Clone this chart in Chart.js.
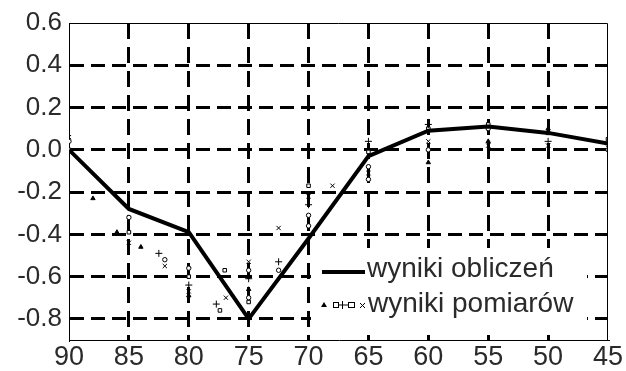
<!DOCTYPE html>
<html>
<head>
<meta charset="utf-8">
<script src="https://cdn.jsdelivr.net/npm/chart.js@4/dist/chart.umd.min.js"></script>
<style>
html,body{margin:0;padding:0;background:#fff;}
canvas{display:block;}
</style>
</head>
<body>
<canvas id="c" width="626" height="371"></canvas>
<script>
// ---- data ----
const xTicks = [90, 85, 80, 75, 70, 65, 60, 55, 50, 45];
const yTicks = [0.6, 0.4, 0.2, 0.0, -0.2, -0.4, -0.6, -0.8];

const calcLabel = "wyniki obliczeń";
const measLabel = "wyniki pomiarów";

const calcX = [90, 85, 80, 75, 70, 65, 60, 55, 50, 45];
const calcY = [0.0, -0.28, -0.39, -0.80, -0.42, -0.03, 0.09, 0.11, 0.08, 0.03];

const triX = [88, 86, 84, 80, 75, 60, 55, 50];
const triY = [-0.23, -0.39, -0.46, -0.69, -0.66, -0.06, 0.04, 0.10];

const circX = [90, 85, 82, 80, 75, 75, 72.5, 70, 70, 65, 65, 60, 55, 45];
const circY = [0.04, -0.32, -0.52, -0.56, -0.57, -0.70, -0.57, -0.31, -0.36, -0.08, -0.14, 0.0, 0.10, 0.0];

const plusX = [82.5, 80, 77.7, 75, 72.5, 70, 65, 60, 50];
const plusY = [-0.49, -0.64, -0.73, -0.61, -0.53, -0.26, 0.04, 0.12, 0.04];

const sqX = [90, 85, 80, 77, 77.4, 75, 70, 65, 60, 55, 50, 45];
const sqY = [0.0, -0.39, -0.60, -0.57, -0.76, -0.72, -0.17, -0.01, 0.10, 0.12, 0.08, 0.05];

const crX = [90, 85, 82, 80, 76.9, 75, 72.5, 70, 68, 65, 60, 55, 50, 45];
const crY = [0.06, -0.44, -0.55, -0.67, -0.70, -0.53, -0.37, -0.22, -0.17, -0.11, 0.04, 0.02, 0.02, 0.01];

const pts = (xs, ys) => xs.map((x, i) => ({x: x, y: ys[i]}));

const FONT = '"Liberation Sans", Arial, sans-serif';
const TXT = '#2a2a2a';

function markerDS(label, xs, ys, style, fill, r) {
  return {
    type: 'scatter', label: label, data: pts(xs, ys),
    pointStyle: style, pointRadius: r, pointBorderWidth: 1,
    pointBackgroundColor: fill, pointBorderColor: '#000',
    showLine: false, order: 2
  };
}

const framePlugin = {
  id: 'frameAndLegend',
  afterDraw(chart) {
    const ctx = chart.ctx, a = chart.chartArea;
    ctx.save();
    ctx.strokeStyle = '#000';
    ctx.lineWidth = 1;
    ctx.setLineDash([]);
    ctx.beginPath();
    ctx.moveTo(a.left, a.top + 0.5);
    ctx.lineTo(a.right - 0.5, a.top + 0.5);
    ctx.lineTo(a.right - 0.5, a.bottom);
    ctx.stroke();

    // legend box (white background over grid)
    const bx = 311, by = 248, bw = 276, bh = 80;
    ctx.fillStyle = '#fff';
    ctx.fillRect(bx, by, bw, bh);

    ctx.fillStyle = TXT;
    ctx.font = '28px ' + FONT;
    ctx.textBaseline = 'alphabetic';
    ctx.textAlign = 'left';
    // row 1: thick line
    ctx.strokeStyle = '#000';
    ctx.lineWidth = 4;
    ctx.beginPath();
    ctx.moveTo(322, 272);
    ctx.lineTo(365, 272);
    ctx.stroke();
    ctx.fillText(chart.data.datasets[0].label, 367, 277);

    // row 2: marker samples
    const my = 305;
    ctx.lineWidth = 1;
    ctx.fillStyle = '#000';
    // triangle
    ctx.beginPath();
    ctx.moveTo(324, my - 3); ctx.lineTo(327, my + 2); ctx.lineTo(321, my + 2); ctx.closePath(); ctx.fill();
    // small square
    ctx.strokeRect(333.5, my - 2.5, 5, 5);
    // plus
    ctx.beginPath();
    ctx.moveTo(338, my); ctx.lineTo(348, my);
    ctx.moveTo(342.5, my - 4); ctx.lineTo(342.5, my + 4);
    ctx.stroke();
    // square
    ctx.strokeRect(348.5, my - 2.5, 6, 5);
    // x
    ctx.beginPath();
    ctx.moveTo(360, my - 2); ctx.lineTo(365, my + 3);
    ctx.moveTo(365, my - 2); ctx.lineTo(360, my + 3);
    ctx.stroke();
    ctx.fillStyle = TXT;
    ctx.fillText(measLabel, 368, 312);
    ctx.restore();
  }
};

new Chart(document.getElementById('c'), {
  type: 'scatter',
  data: {
    datasets: [
      {
        type: 'line', label: calcLabel, data: pts(calcX, calcY),
        borderColor: '#000', borderWidth: 4, pointRadius: 0,
        tension: 0, fill: false, order: 1
      },
      markerDS(measLabel, triX, triY, 'triangle', '#000', 2.5),
      markerDS(measLabel, circX, circY, 'circle', '#fff', 2.2),
      markerDS(measLabel, plusX, plusY, 'cross', '#000', 3.5),
      markerDS(measLabel, sqX, sqY, 'rect', '#fff', 2.5),
      markerDS(measLabel, crX, crY, 'crossRot', '#000', 3)
    ]
  },
  options: {
    responsive: false,
    animation: false,
    layout: {padding: {left: 0, top: 23, right: 18, bottom: 0}},
    plugins: {legend: {display: false}, tooltip: {enabled: false}},
    scales: {
      x: {
        type: 'linear', reverse: true, min: 45, max: 90,
        afterBuildTicks: s => { s.ticks = xTicks.map(v => ({value: v})); },
        afterFit: s => { s.height = 31; },
        grid: {
          color: c => (c.tick && (c.tick.value === 90 || c.tick.value === 45)) ? 'rgba(0,0,0,0)' : '#000',
          lineWidth: 3, drawTicks: false
        },
        border: {display: true, color: '#000', width: 1, dash: [16, 8]},
        ticks: {
          color: TXT, padding: 1, maxRotation: 0,
          font: {family: FONT, size: 27},
          callback: v => String(v)
        }
      },
      y: {
        type: 'linear', min: -0.9, max: 0.6,
        afterBuildTicks: s => { s.ticks = yTicks.map(v => ({value: v})); },
        afterFit: s => { s.width = 69; },
        grid: {
          color: c => (c.tick && Math.abs(c.tick.value - 0.6) < 1e-9) ? 'rgba(0,0,0,0)' : '#000',
          lineWidth: 3, drawTicks: false
        },
        border: {display: true, color: '#000', width: 1, dash: [14, 7]},
        ticks: {
          color: TXT, padding: 7,
          font: {family: FONT, size: 26},
          callback: v => Number(v).toFixed(1)
        }
      }
    }
  },
  plugins: [framePlugin]
});
</script>
</body>
</html>
